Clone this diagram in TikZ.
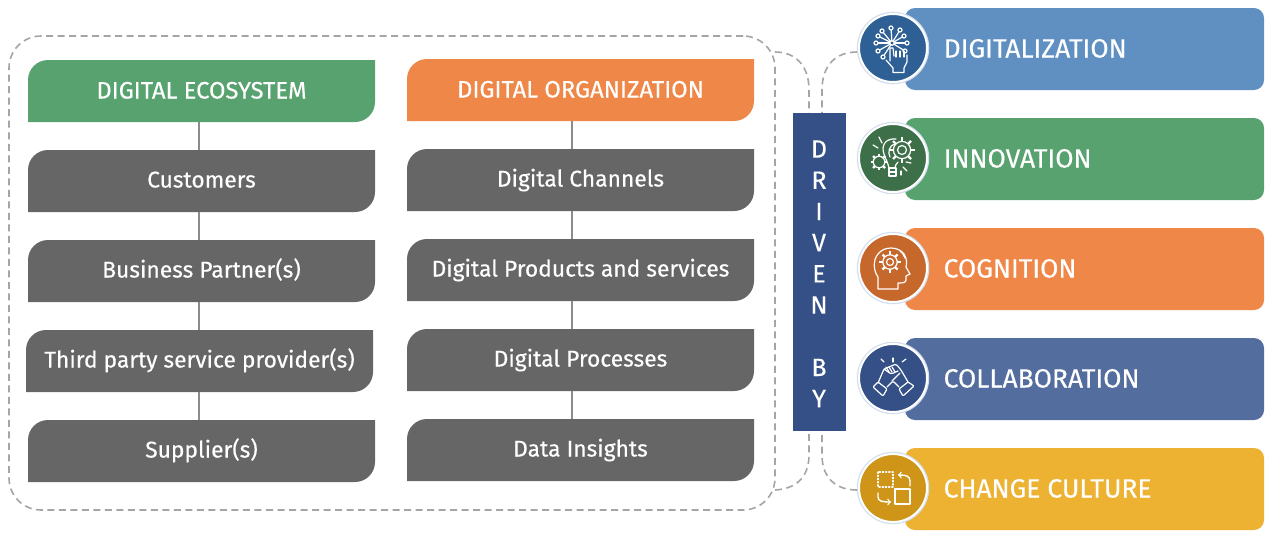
\documentclass[tikz,border=0pt]{standalone}
\usepackage{fontspec}
\setmainfont[FakeBold=0.35]{Fira Sans}
\definecolor{ecoGreen}{HTML}{57A26F}
\definecolor{orgOrange}{HTML}{EF8748}
\definecolor{itemGrey}{HTML}{666666}
\definecolor{digiBlue}{HTML}{6090C2}
\definecolor{collabBlue}{HTML}{526D9E}
\definecolor{driveBlue}{HTML}{345086}
\definecolor{cultureYellow}{HTML}{EDB231}
\definecolor{digiDark}{HTML}{2E6095}
\definecolor{innoDark}{HTML}{3D7048}
\definecolor{cogDark}{HTML}{C6672B}
\definecolor{cultureDark}{HTML}{CE9518}
\definecolor{dashGrey}{HTML}{A5A5A5}
\definecolor{haloBlue}{HTML}{D3DFEE}
\tikzset{
	leafbox/.style={minimum width=347pt, minimum height=62pt, inner sep=0pt, text=white,
		text height=17pt, text depth=4pt,
		font=\fontsize{22.8}{26}\selectfont,
		path picture={\fill [#1] (path picture bounding box.south west) [rounded corners=20pt] -- (path picture bounding box.north west) [sharp corners] -- (path picture bounding box.north east) [rounded corners=20pt] -- (path picture bounding box.south east) [sharp corners] -- cycle;}},
	headbox/.style={leafbox=#1, text height=18pt, text depth=3pt, font=\fontsize{23.8}{26}\selectfont},
	barbox/.style={minimum width=359pt, minimum height=82pt, inner sep=0pt, rounded corners=10pt, fill=#1},
	barlabel/.style={anchor=west, text=white, inner sep=0pt, text height=21pt, text depth=4pt, font=\fontsize{26.4}{30}\selectfont},
	iconring/.style={circle, minimum size=68pt, inner sep=0pt, fill=#1, draw=white, line width=2pt, preaction={draw=haloBlue, line width=4.5pt}},
	dashline/.style={draw=dashGrey, line width=1.6pt, dash pattern=on 7pt off 4.5pt},
	linkline/.style={draw=black!45, line width=1.2pt},
	iconline/.style={draw=white, line width=1.2pt, line join=round, line cap=round},
}
\newcommand{\gearicon}[3]{% centre x, centre y, radius
	\draw [iconline] (#1,#2) circle [radius=#3*0.72];
	\foreach \t in {0,45,...,315}{
		\draw [iconline, line width=2.4pt, line cap=butt] (#1,#2) ++(\t:#3*0.72) -- ++(\t:#3*0.34);
	}
}
\begin{document}
\begin{tikzpicture}[x=1pt,y=-1pt]
\useasboundingbox (0,0) rectangle (1276,538);

% frame and left columns
\node [dashline, draw, rounded corners=32pt, minimum width=766pt, minimum height=474pt, inner sep=0pt] (frame) at (392,273) {};

\node [headbox=ecoGreen] (eco) at (201.5,91) {DIGITAL ECOSYSTEM};
\node [leafbox=itemGrey] (cust) at (201.5,181) {Customers};
\node [leafbox=itemGrey] (partner) at (201.5,271) {Business Partner(s)};
\node [leafbox=itemGrey] (third) at (199.5,361) {Third party service provider(s)};
\node [leafbox=itemGrey] (supp) at (201.5,451) {Supplier(s)};
\node [headbox=orgOrange] (org) at (580.5,90) {DIGITAL ORGANIZATION};
\node [leafbox=itemGrey] (chan) at (580.5,180) {Digital Channels};
\node [leafbox=itemGrey] (prod) at (580.5,270) {Digital Products and services};
\node [leafbox=itemGrey] (proc) at (580.5,360) {Digital Processes};
\node [leafbox=itemGrey] (data) at (580.5,450) {Data Insights};

\coordinate (leftlink) at (199,0);
\coordinate (rightlink) at (572,0);
\foreach \a/\b in {eco/cust,cust/partner,partner/third,third/supp}{
	\draw [linkline] (\a.south -| leftlink) -- (\b.north -| leftlink);
}
\foreach \a/\b in {org/chan,chan/prod,prod/proc,proc/data}{
	\draw [linkline] (\a.south -| rightlink) -- (\b.north -| rightlink);
}

% driven by
\node [fill=driveBlue, minimum width=53pt, minimum height=318pt, inner sep=0pt] (driven) at (819.5,272) {};
\foreach \c [count=\n] in {D,R,I,V,E,N,{},B,Y}{
	\node [text=white, font=\fontsize{25}{26}\selectfont] (let\n) at (819,149+\n*31.2-31.2) {\c};
}

% right bars
\foreach \nm/\txt/\col/\dark/\y in {digi/DIGITALIZATION/digiBlue/digiDark/48,inno/INNOVATION/ecoGreen/innoDark/158,cog/COGNITION/orgOrange/cogDark/268,collab/COLLABORATION/collabBlue/driveBlue/378,culture/CHANGE CULTURE/cultureYellow/cultureDark/488}{
	\node [barbox=\col] (\nm bar) at (1084.5,\y+1) {};
	\node [barlabel] (\nm text) at (943.5,\y+1) {\txt};
	\node [iconring=\dark] (\nm) at (893,\y) {};
}

% dashed links
\coordinate (frametop) at (775,52);
\coordinate (framebot) at (775,490);
\coordinate (digiend) at (857,52);
\coordinate (cultureend) at (857,490);
\draw [dashline] (frametop) .. controls (795,52) and (809,65) .. (809,90) -- (driven.north -| 809,0);
\draw [dashline] (digiend) .. controls (836,52) and (822,65) .. (822,90) -- (driven.north -| 822,0);
\draw [dashline] (framebot) .. controls (795,489) and (809,478) .. (809,455) -- (driven.south -| 809,0);
\draw [dashline] (cultureend) .. controls (836,490) and (822,478) .. (822,455) -- (driven.south -| 822,0);

% digitalization icon
\begin{scope}[shift={(digi.center)}]
\foreach \x/\y in {-2/-20,-11/-17,7/-18,-15/-12,11/-12,-17/-5,14/-5,-15/3,12/3,-10/9}{
	\draw [iconline] (-1,-5) -- (\x,\y);
	\draw [iconline, fill=digiDark] (\x,\y) circle [radius=2];
}
\draw [iconline, fill=digiDark] (-1,-5) circle [radius=2.2];
\draw [iconline] (-7,12) -- (0,20) -- (0,24.5) -- (11,24.5) -- (11,20) -- (14,14) -- (14,7);
\draw [iconline] (-3,13) -- (-3,0) -- (0,0) -- (1,8);
\foreach \x in {3,7,11}{\draw [iconline] (\x,3) -- (\x,9);}
\end{scope}

% innovation icon
\begin{scope}[shift={(inno.center)}]
\draw [iconline] (3,-19) .. controls (-8,-20) and (-12,-12) .. (-9,-4) .. controls (-7,2) and (-5,5) .. (-4,10);
\draw [iconline] (3,-14) .. controls (-5,-13) and (-5,-5) .. (-3,-1);
\draw [iconline] (5,4) .. controls (3,6) and (2,8) .. (2,10);
\gearicon{9}{-8}{12}
\gearicon{-14}{4}{8}
\draw [iconline] (9,-8) circle [radius=4.5];
\draw [iconline] (-4,10) rectangle (3,18);
\draw [iconline] (-4,14) -- (3,14);
\foreach \a/\b/\c/\d in {-14/-21/-11/-15,-20/-13/-15/-10,13/4/18/5,10/9/14/13,8/13/8/17}{
	\draw [iconline] (\a,\b) -- (\c,\d);
}
\end{scope}

% cognition icon
\begin{scope}[shift={(cog.center)}]
\draw [iconline] (-15,21) -- (-15,9) .. controls (-20,2) and (-20,-8) .. (-15,-14) .. controls (-9,-22) and (5,-22) .. (11,-14) .. controls (14,-9) and (14,-5) .. (13,-1) -- (17,6) -- (13,8) -- (13,12) .. controls (13,15) and (9,15) .. (5,15) -- (5,21) -- cycle;
\gearicon{-3}{-6}{10}
\draw [iconline] (-3,-6) circle [radius=3.5];
\draw [iconline] (7,-17) .. controls (10,-15) and (11,-12) .. (12,-10);
\end{scope}

% collaboration icon
\begin{scope}[shift={(collab.center)}]
\foreach \a/\b/\c/\d in {-12/-19/-9/-16,0/-20/0/-16,13/-19/9/-16}{
	\draw [iconline] (\a,\b) -- (\c,\d);
}
\draw [iconline, rounded corners=1.5pt] (-15,5) -- (-9,-9) -- (3,-14) -- (8,-8) -- (15,4);
\draw [iconline, rounded corners=1.5pt] (-6,9) -- (0,3) -- (6,9);
\draw [iconline, rounded corners=1.5pt] (-9,-9) -- (-2,-4) -- (5,-7);
\draw [iconline] (-1,3) -- (7,-5);
\foreach \x in {-7,-4,-1}{\draw [iconline] (\x,-11) -- (\x+3,-6);}
\draw [iconline, rounded corners=1pt] (-15,4) -- (-6,11) -- (-10,18) -- (-20,9) -- cycle;
\draw [iconline, rounded corners=1pt] (15,4) -- (6,11) -- (10,18) -- (21,8) -- cycle;
\end{scope}

% change culture icon
\begin{scope}[shift={(culture.center)}]
\draw [iconline, dotted, line width=1.4pt] (-15,-16) rectangle (0,-1);
\draw [iconline, line width=1.4pt] (2,1) rectangle (17,16);
\draw [iconline, line width=1.4pt, ->] (17,-2) -- (17,-7) .. controls (17,-12) and (13,-13) .. (5,-13);
\draw [iconline, line width=1.4pt, ->] (-15,5) -- (-15,9) .. controls (-15,13) and (-11,14) .. (-2,14);
\end{scope}
\end{tikzpicture}
\end{document}
